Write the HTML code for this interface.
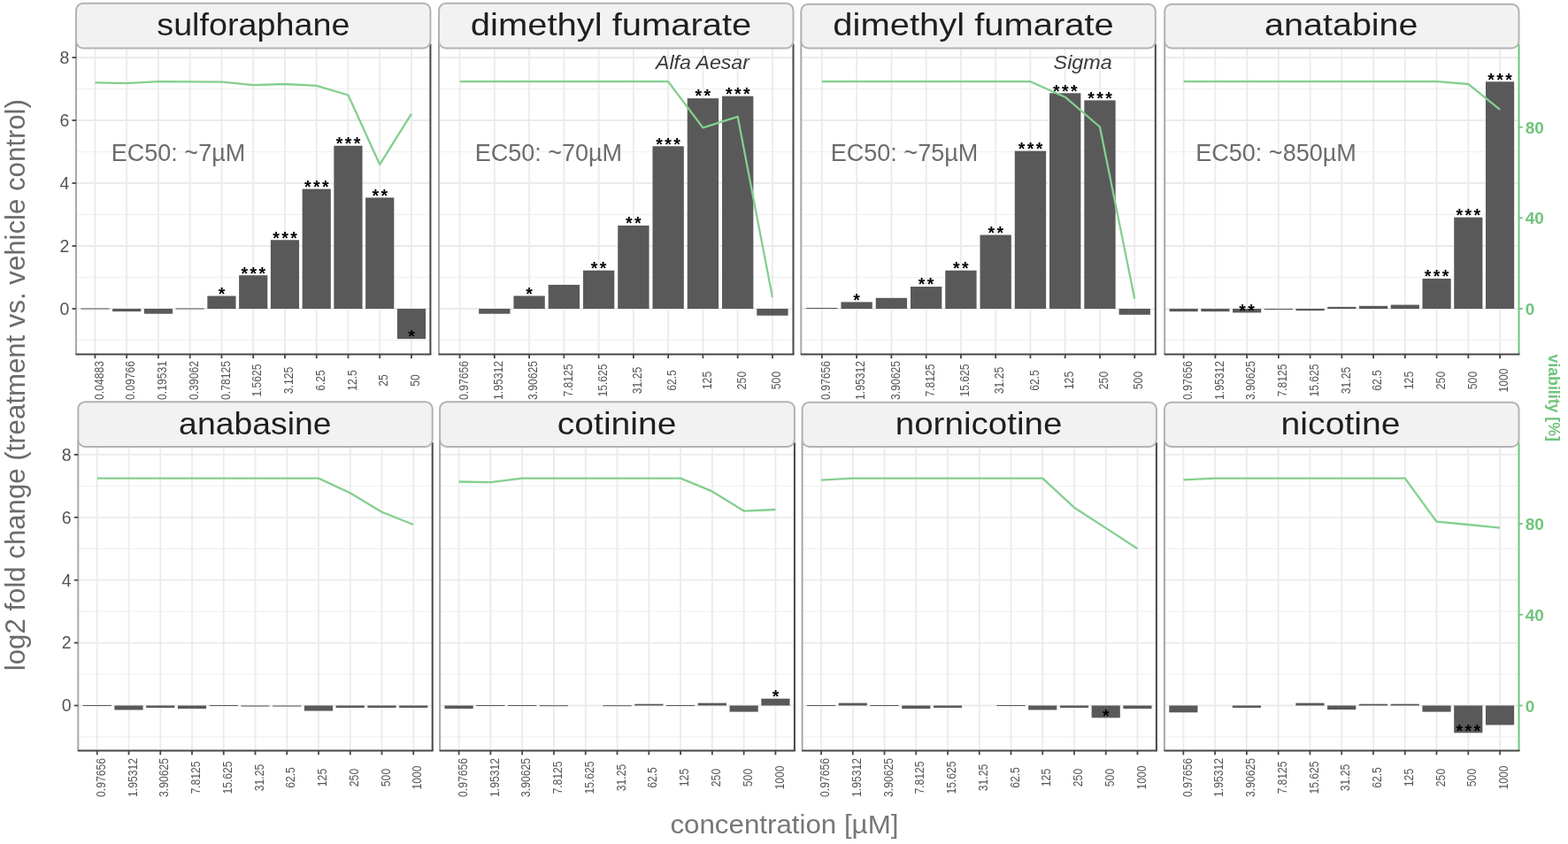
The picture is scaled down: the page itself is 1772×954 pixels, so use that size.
<!DOCTYPE html>
<html><head><meta charset="utf-8"><title>figure</title>
<style>html,body{margin:0;padding:0;background:#fff;width:1772px;height:954px;overflow:hidden}</style>
</head><body>
<svg width="1772" height="954" viewBox="0 0 1772 954" style="display:block"><rect x="0" y="0" width="1772" height="954" fill="#ffffff"/><line x1="86" y1="384.5" x2="486.4" y2="384.5" stroke="#f2f2f2" stroke-width="1.3"/><line x1="86" y1="313.5" x2="486.4" y2="313.5" stroke="#f2f2f2" stroke-width="1.3"/><line x1="86" y1="242.5" x2="486.4" y2="242.5" stroke="#f2f2f2" stroke-width="1.3"/><line x1="86" y1="171.5" x2="486.4" y2="171.5" stroke="#f2f2f2" stroke-width="1.3"/><line x1="86" y1="100.5" x2="486.4" y2="100.5" stroke="#f2f2f2" stroke-width="1.3"/><line x1="86" y1="349" x2="486.4" y2="349" stroke="#ebebeb" stroke-width="1.8"/><line x1="86" y1="278" x2="486.4" y2="278" stroke="#ebebeb" stroke-width="1.8"/><line x1="86" y1="207" x2="486.4" y2="207" stroke="#ebebeb" stroke-width="1.8"/><line x1="86" y1="136" x2="486.4" y2="136" stroke="#ebebeb" stroke-width="1.8"/><line x1="86" y1="65" x2="486.4" y2="65" stroke="#ebebeb" stroke-width="1.8"/><line x1="107.45" y1="54.5" x2="107.45" y2="400.4" stroke="#ebebeb" stroke-width="1.8"/><line x1="143.2" y1="54.5" x2="143.2" y2="400.4" stroke="#ebebeb" stroke-width="1.8"/><line x1="178.95" y1="54.5" x2="178.95" y2="400.4" stroke="#ebebeb" stroke-width="1.8"/><line x1="214.7" y1="54.5" x2="214.7" y2="400.4" stroke="#ebebeb" stroke-width="1.8"/><line x1="250.45" y1="54.5" x2="250.45" y2="400.4" stroke="#ebebeb" stroke-width="1.8"/><line x1="286.2" y1="54.5" x2="286.2" y2="400.4" stroke="#ebebeb" stroke-width="1.8"/><line x1="321.95" y1="54.5" x2="321.95" y2="400.4" stroke="#ebebeb" stroke-width="1.8"/><line x1="357.7" y1="54.5" x2="357.7" y2="400.4" stroke="#ebebeb" stroke-width="1.8"/><line x1="393.45" y1="54.5" x2="393.45" y2="400.4" stroke="#ebebeb" stroke-width="1.8"/><line x1="429.2" y1="54.5" x2="429.2" y2="400.4" stroke="#ebebeb" stroke-width="1.8"/><line x1="464.95" y1="54.5" x2="464.95" y2="400.4" stroke="#ebebeb" stroke-width="1.8"/><rect x="91.36" y="348.5" width="32.18" height="1" fill="#595959"/><rect x="127.11" y="349" width="32.18" height="3.09" fill="#595959"/><rect x="162.86" y="349" width="32.18" height="5.68" fill="#595959"/><rect x="198.61" y="348.5" width="32.18" height="1" fill="#595959"/><rect x="234.36" y="334.52" width="32.18" height="14.48" fill="#595959"/><rect x="270.11" y="311.19" width="32.18" height="37.81" fill="#595959"/><rect x="305.86" y="271.25" width="32.18" height="77.75" fill="#595959"/><rect x="341.61" y="213.6" width="32.18" height="135.4" fill="#595959"/><rect x="377.36" y="164.75" width="32.18" height="184.25" fill="#595959"/><rect x="413.11" y="223.4" width="32.18" height="125.6" fill="#595959"/><rect x="448.86" y="349" width="32.18" height="34.08" fill="#595959"/><polyline points="107.45,93.3 143.2,94.2 178.95,92.2 214.7,92.4 250.45,92.6 286.2,96.1 321.95,95 357.7,96.8 393.45,107.5 429.2,185.9 464.95,128.7" fill="none" stroke="#84cf8f" stroke-width="2.3" stroke-linejoin="round"/><g font-family="Liberation Sans, sans-serif" font-weight="bold"><text x="250.45" y="338.86" font-size="19.5" text-anchor="middle" fill="#000">*</text><text x="276.2" y="315.53" font-size="19.5" text-anchor="middle" fill="#000">*</text><text x="286.2" y="315.53" font-size="19.5" text-anchor="middle" fill="#000">*</text><text x="296.2" y="315.53" font-size="19.5" text-anchor="middle" fill="#000">*</text><text x="311.95" y="275.6" font-size="19.5" text-anchor="middle" fill="#000">*</text><text x="321.95" y="275.6" font-size="19.5" text-anchor="middle" fill="#000">*</text><text x="331.95" y="275.6" font-size="19.5" text-anchor="middle" fill="#000">*</text><text x="347.7" y="217.94" font-size="19.5" text-anchor="middle" fill="#000">*</text><text x="357.7" y="217.94" font-size="19.5" text-anchor="middle" fill="#000">*</text><text x="367.7" y="217.94" font-size="19.5" text-anchor="middle" fill="#000">*</text><text x="383.45" y="169.09" font-size="19.5" text-anchor="middle" fill="#000">*</text><text x="393.45" y="169.09" font-size="19.5" text-anchor="middle" fill="#000">*</text><text x="403.45" y="169.09" font-size="19.5" text-anchor="middle" fill="#000">*</text><text x="424.2" y="227.74" font-size="19.5" text-anchor="middle" fill="#000">*</text><text x="434.2" y="227.74" font-size="19.5" text-anchor="middle" fill="#000">*</text><text x="464.95" y="387.42" font-size="19.5" text-anchor="middle" fill="#000">*</text></g><text x="125.84" y="181.7" font-family="Liberation Sans, sans-serif" font-size="27" fill="#6c6c6c">EC50: ~7µM</text><line x1="86" y1="46.5" x2="86" y2="400.4" stroke="#a8a8a8" stroke-width="2"/><line x1="486.4" y1="49.5" x2="486.4" y2="400.4" stroke="#474747" stroke-width="2"/><line x1="85.5" y1="400.4" x2="487.4" y2="400.4" stroke="#474747" stroke-width="2"/><line x1="107.45" y1="400.4" x2="107.45" y2="405.2" stroke="#474747" stroke-width="1.8"/><line x1="143.2" y1="400.4" x2="143.2" y2="405.2" stroke="#474747" stroke-width="1.8"/><line x1="178.95" y1="400.4" x2="178.95" y2="405.2" stroke="#474747" stroke-width="1.8"/><line x1="214.7" y1="400.4" x2="214.7" y2="405.2" stroke="#474747" stroke-width="1.8"/><line x1="250.45" y1="400.4" x2="250.45" y2="405.2" stroke="#474747" stroke-width="1.8"/><line x1="286.2" y1="400.4" x2="286.2" y2="405.2" stroke="#474747" stroke-width="1.8"/><line x1="321.95" y1="400.4" x2="321.95" y2="405.2" stroke="#474747" stroke-width="1.8"/><line x1="357.7" y1="400.4" x2="357.7" y2="405.2" stroke="#474747" stroke-width="1.8"/><line x1="393.45" y1="400.4" x2="393.45" y2="405.2" stroke="#474747" stroke-width="1.8"/><line x1="429.2" y1="400.4" x2="429.2" y2="405.2" stroke="#474747" stroke-width="1.8"/><line x1="464.95" y1="400.4" x2="464.95" y2="405.2" stroke="#474747" stroke-width="1.8"/><rect x="86" y="3.7" width="400.4" height="50.8" rx="8" ry="8" fill="#f2f2f2" stroke="#b3b3b3" stroke-width="2"/><text transform="translate(177.27,40.1) scale(1.0783,1)" font-family="Liberation Sans, sans-serif" font-size="35" fill="#1f1f1f">sulforaphane</text><g font-family="Liberation Sans, sans-serif" font-size="14" fill="#545454"><text transform="translate(116.65,430) rotate(-90) scale(0.87,1)" text-anchor="middle">0.04883</text><text transform="translate(152.4,430) rotate(-90) scale(0.87,1)" text-anchor="middle">0.09766</text><text transform="translate(188.15,430) rotate(-90) scale(0.87,1)" text-anchor="middle">0.19531</text><text transform="translate(223.9,430) rotate(-90) scale(0.87,1)" text-anchor="middle">0.39062</text><text transform="translate(259.65,430) rotate(-90) scale(0.87,1)" text-anchor="middle">0.78125</text><text transform="translate(295.4,430) rotate(-90) scale(0.87,1)" text-anchor="middle">1.5625</text><text transform="translate(331.15,430) rotate(-90) scale(0.87,1)" text-anchor="middle">3.125</text><text transform="translate(366.9,430) rotate(-90) scale(0.87,1)" text-anchor="middle">6.25</text><text transform="translate(402.65,430) rotate(-90) scale(0.87,1)" text-anchor="middle">12.5</text><text transform="translate(438.4,430) rotate(-90) scale(0.87,1)" text-anchor="middle">25</text><text transform="translate(474.15,430) rotate(-90) scale(0.87,1)" text-anchor="middle">50</text></g><line x1="496" y1="384.5" x2="896.5" y2="384.5" stroke="#f2f2f2" stroke-width="1.3"/><line x1="496" y1="313.5" x2="896.5" y2="313.5" stroke="#f2f2f2" stroke-width="1.3"/><line x1="496" y1="242.5" x2="896.5" y2="242.5" stroke="#f2f2f2" stroke-width="1.3"/><line x1="496" y1="171.5" x2="896.5" y2="171.5" stroke="#f2f2f2" stroke-width="1.3"/><line x1="496" y1="100.5" x2="896.5" y2="100.5" stroke="#f2f2f2" stroke-width="1.3"/><line x1="496" y1="349" x2="896.5" y2="349" stroke="#ebebeb" stroke-width="1.8"/><line x1="496" y1="278" x2="896.5" y2="278" stroke="#ebebeb" stroke-width="1.8"/><line x1="496" y1="207" x2="896.5" y2="207" stroke="#ebebeb" stroke-width="1.8"/><line x1="496" y1="136" x2="896.5" y2="136" stroke="#ebebeb" stroke-width="1.8"/><line x1="496" y1="65" x2="896.5" y2="65" stroke="#ebebeb" stroke-width="1.8"/><line x1="519.56" y1="54.5" x2="519.56" y2="400.4" stroke="#ebebeb" stroke-width="1.8"/><line x1="558.82" y1="54.5" x2="558.82" y2="400.4" stroke="#ebebeb" stroke-width="1.8"/><line x1="598.09" y1="54.5" x2="598.09" y2="400.4" stroke="#ebebeb" stroke-width="1.8"/><line x1="637.35" y1="54.5" x2="637.35" y2="400.4" stroke="#ebebeb" stroke-width="1.8"/><line x1="676.62" y1="54.5" x2="676.62" y2="400.4" stroke="#ebebeb" stroke-width="1.8"/><line x1="715.88" y1="54.5" x2="715.88" y2="400.4" stroke="#ebebeb" stroke-width="1.8"/><line x1="755.15" y1="54.5" x2="755.15" y2="400.4" stroke="#ebebeb" stroke-width="1.8"/><line x1="794.41" y1="54.5" x2="794.41" y2="400.4" stroke="#ebebeb" stroke-width="1.8"/><line x1="833.68" y1="54.5" x2="833.68" y2="400.4" stroke="#ebebeb" stroke-width="1.8"/><line x1="872.94" y1="54.5" x2="872.94" y2="400.4" stroke="#ebebeb" stroke-width="1.8"/><rect x="541.15" y="349" width="35.34" height="5.68" fill="#595959"/><rect x="580.42" y="334.44" width="35.34" height="14.56" fill="#595959"/><rect x="619.68" y="321.91" width="35.34" height="27.09" fill="#595959"/><rect x="658.95" y="305.69" width="35.34" height="43.31" fill="#595959"/><rect x="698.21" y="254.93" width="35.34" height="94.07" fill="#595959"/><rect x="737.48" y="165.29" width="35.34" height="183.71" fill="#595959"/><rect x="776.74" y="111.15" width="35.34" height="237.85" fill="#595959"/><rect x="816.01" y="108.67" width="35.34" height="240.33" fill="#595959"/><rect x="855.27" y="349" width="35.34" height="7.7" fill="#595959"/><polyline points="519.56,92.2 558.82,92.2 598.09,92.2 637.35,92.2 676.62,92.2 715.88,92.2 755.15,92.2 794.41,144.4 833.68,131.9 872.94,336" fill="none" stroke="#84cf8f" stroke-width="2.3" stroke-linejoin="round"/><g font-family="Liberation Sans, sans-serif" font-weight="bold"><text x="598.09" y="338.79" font-size="19.5" text-anchor="middle" fill="#000">*</text><text x="671.62" y="310.03" font-size="19.5" text-anchor="middle" fill="#000">*</text><text x="681.62" y="310.03" font-size="19.5" text-anchor="middle" fill="#000">*</text><text x="710.88" y="259.26" font-size="19.5" text-anchor="middle" fill="#000">*</text><text x="720.88" y="259.26" font-size="19.5" text-anchor="middle" fill="#000">*</text><text x="745.15" y="169.63" font-size="19.5" text-anchor="middle" fill="#000">*</text><text x="755.15" y="169.63" font-size="19.5" text-anchor="middle" fill="#000">*</text><text x="765.15" y="169.63" font-size="19.5" text-anchor="middle" fill="#000">*</text><text x="789.41" y="115.49" font-size="19.5" text-anchor="middle" fill="#000">*</text><text x="799.41" y="115.49" font-size="19.5" text-anchor="middle" fill="#000">*</text><text x="823.68" y="113.01" font-size="19.5" text-anchor="middle" fill="#000">*</text><text x="833.68" y="113.01" font-size="19.5" text-anchor="middle" fill="#000">*</text><text x="843.68" y="113.01" font-size="19.5" text-anchor="middle" fill="#000">*</text></g><text x="536.64" y="181.7" font-family="Liberation Sans, sans-serif" font-size="27" fill="#6c6c6c">EC50: ~70µM</text><text transform="translate(740.96,77.6) scale(1.0300,1)" font-family="Liberation Sans, sans-serif" font-style="italic" font-size="22.5" fill="#3a3a3a">Alfa Aesar</text><line x1="496" y1="46.5" x2="496" y2="400.4" stroke="#a8a8a8" stroke-width="2"/><line x1="896.5" y1="49.5" x2="896.5" y2="400.4" stroke="#474747" stroke-width="2"/><line x1="495.5" y1="400.4" x2="897.5" y2="400.4" stroke="#474747" stroke-width="2"/><line x1="519.56" y1="400.4" x2="519.56" y2="405.2" stroke="#474747" stroke-width="1.8"/><line x1="558.82" y1="400.4" x2="558.82" y2="405.2" stroke="#474747" stroke-width="1.8"/><line x1="598.09" y1="400.4" x2="598.09" y2="405.2" stroke="#474747" stroke-width="1.8"/><line x1="637.35" y1="400.4" x2="637.35" y2="405.2" stroke="#474747" stroke-width="1.8"/><line x1="676.62" y1="400.4" x2="676.62" y2="405.2" stroke="#474747" stroke-width="1.8"/><line x1="715.88" y1="400.4" x2="715.88" y2="405.2" stroke="#474747" stroke-width="1.8"/><line x1="755.15" y1="400.4" x2="755.15" y2="405.2" stroke="#474747" stroke-width="1.8"/><line x1="794.41" y1="400.4" x2="794.41" y2="405.2" stroke="#474747" stroke-width="1.8"/><line x1="833.68" y1="400.4" x2="833.68" y2="405.2" stroke="#474747" stroke-width="1.8"/><line x1="872.94" y1="400.4" x2="872.94" y2="405.2" stroke="#474747" stroke-width="1.8"/><rect x="496" y="3.7" width="400.5" height="50.8" rx="8" ry="8" fill="#f2f2f2" stroke="#b3b3b3" stroke-width="2"/><text transform="translate(531.8,40.1) scale(1.1421,1)" font-family="Liberation Sans, sans-serif" font-size="35" fill="#1f1f1f">dimethyl fumarate</text><g font-family="Liberation Sans, sans-serif" font-size="14" fill="#545454"><text transform="translate(528.76,430) rotate(-90) scale(0.87,1)" text-anchor="middle">0.97656</text><text transform="translate(568.02,430) rotate(-90) scale(0.87,1)" text-anchor="middle">1.95312</text><text transform="translate(607.29,430) rotate(-90) scale(0.87,1)" text-anchor="middle">3.90625</text><text transform="translate(646.55,430) rotate(-90) scale(0.87,1)" text-anchor="middle">7.8125</text><text transform="translate(685.82,430) rotate(-90) scale(0.87,1)" text-anchor="middle">15.625</text><text transform="translate(725.08,430) rotate(-90) scale(0.87,1)" text-anchor="middle">31.25</text><text transform="translate(764.35,430) rotate(-90) scale(0.87,1)" text-anchor="middle">62.5</text><text transform="translate(803.61,430) rotate(-90) scale(0.87,1)" text-anchor="middle">125</text><text transform="translate(842.88,430) rotate(-90) scale(0.87,1)" text-anchor="middle">250</text><text transform="translate(882.14,430) rotate(-90) scale(0.87,1)" text-anchor="middle">500</text></g><line x1="905.3" y1="384.5" x2="1305.8" y2="384.5" stroke="#f2f2f2" stroke-width="1.3"/><line x1="905.3" y1="313.5" x2="1305.8" y2="313.5" stroke="#f2f2f2" stroke-width="1.3"/><line x1="905.3" y1="242.5" x2="1305.8" y2="242.5" stroke="#f2f2f2" stroke-width="1.3"/><line x1="905.3" y1="171.5" x2="1305.8" y2="171.5" stroke="#f2f2f2" stroke-width="1.3"/><line x1="905.3" y1="100.5" x2="1305.8" y2="100.5" stroke="#f2f2f2" stroke-width="1.3"/><line x1="905.3" y1="349" x2="1305.8" y2="349" stroke="#ebebeb" stroke-width="1.8"/><line x1="905.3" y1="278" x2="1305.8" y2="278" stroke="#ebebeb" stroke-width="1.8"/><line x1="905.3" y1="207" x2="1305.8" y2="207" stroke="#ebebeb" stroke-width="1.8"/><line x1="905.3" y1="136" x2="1305.8" y2="136" stroke="#ebebeb" stroke-width="1.8"/><line x1="905.3" y1="65" x2="1305.8" y2="65" stroke="#ebebeb" stroke-width="1.8"/><line x1="928.86" y1="54.5" x2="928.86" y2="400.4" stroke="#ebebeb" stroke-width="1.8"/><line x1="968.12" y1="54.5" x2="968.12" y2="400.4" stroke="#ebebeb" stroke-width="1.8"/><line x1="1007.39" y1="54.5" x2="1007.39" y2="400.4" stroke="#ebebeb" stroke-width="1.8"/><line x1="1046.65" y1="54.5" x2="1046.65" y2="400.4" stroke="#ebebeb" stroke-width="1.8"/><line x1="1085.92" y1="54.5" x2="1085.92" y2="400.4" stroke="#ebebeb" stroke-width="1.8"/><line x1="1125.18" y1="54.5" x2="1125.18" y2="400.4" stroke="#ebebeb" stroke-width="1.8"/><line x1="1164.45" y1="54.5" x2="1164.45" y2="400.4" stroke="#ebebeb" stroke-width="1.8"/><line x1="1203.71" y1="54.5" x2="1203.71" y2="400.4" stroke="#ebebeb" stroke-width="1.8"/><line x1="1242.98" y1="54.5" x2="1242.98" y2="400.4" stroke="#ebebeb" stroke-width="1.8"/><line x1="1282.24" y1="54.5" x2="1282.24" y2="400.4" stroke="#ebebeb" stroke-width="1.8"/><rect x="911.19" y="347.94" width="35.34" height="1.06" fill="#595959"/><rect x="950.45" y="341.4" width="35.34" height="7.6" fill="#595959"/><rect x="989.72" y="336.79" width="35.34" height="12.21" fill="#595959"/><rect x="1028.98" y="324.01" width="35.34" height="24.99" fill="#595959"/><rect x="1068.25" y="305.69" width="35.34" height="43.31" fill="#595959"/><rect x="1107.51" y="265.57" width="35.34" height="83.43" fill="#595959"/><rect x="1146.78" y="170.61" width="35.34" height="178.39" fill="#595959"/><rect x="1186.04" y="105.29" width="35.34" height="243.71" fill="#595959"/><rect x="1225.31" y="113.39" width="35.34" height="235.61" fill="#595959"/><rect x="1264.57" y="349" width="35.34" height="6.75" fill="#595959"/><polyline points="928.86,92.2 968.12,92.2 1007.39,92.2 1046.65,92.2 1085.92,92.2 1125.18,92.2 1164.45,92.2 1203.71,109.7 1242.98,143.5 1282.24,337.8" fill="none" stroke="#84cf8f" stroke-width="2.3" stroke-linejoin="round"/><g font-family="Liberation Sans, sans-serif" font-weight="bold"><text x="968.12" y="345.74" font-size="19.5" text-anchor="middle" fill="#000">*</text><text x="1041.65" y="328.35" font-size="19.5" text-anchor="middle" fill="#000">*</text><text x="1051.65" y="328.35" font-size="19.5" text-anchor="middle" fill="#000">*</text><text x="1080.92" y="310.03" font-size="19.5" text-anchor="middle" fill="#000">*</text><text x="1090.92" y="310.03" font-size="19.5" text-anchor="middle" fill="#000">*</text><text x="1120.18" y="269.92" font-size="19.5" text-anchor="middle" fill="#000">*</text><text x="1130.18" y="269.92" font-size="19.5" text-anchor="middle" fill="#000">*</text><text x="1154.45" y="174.95" font-size="19.5" text-anchor="middle" fill="#000">*</text><text x="1164.45" y="174.95" font-size="19.5" text-anchor="middle" fill="#000">*</text><text x="1174.45" y="174.95" font-size="19.5" text-anchor="middle" fill="#000">*</text><text x="1193.71" y="109.63" font-size="19.5" text-anchor="middle" fill="#000">*</text><text x="1203.71" y="109.63" font-size="19.5" text-anchor="middle" fill="#000">*</text><text x="1213.71" y="109.63" font-size="19.5" text-anchor="middle" fill="#000">*</text><text x="1232.98" y="117.73" font-size="19.5" text-anchor="middle" fill="#000">*</text><text x="1242.98" y="117.73" font-size="19.5" text-anchor="middle" fill="#000">*</text><text x="1252.98" y="117.73" font-size="19.5" text-anchor="middle" fill="#000">*</text></g><text x="938.84" y="181.7" font-family="Liberation Sans, sans-serif" font-size="27" fill="#6c6c6c">EC50: ~75µM</text><text transform="translate(1190.6,77.6) scale(1.0365,1)" font-family="Liberation Sans, sans-serif" font-style="italic" font-size="22.5" fill="#3a3a3a">Sigma</text><line x1="905.3" y1="46.5" x2="905.3" y2="400.4" stroke="#a8a8a8" stroke-width="2"/><line x1="1305.8" y1="49.5" x2="1305.8" y2="400.4" stroke="#474747" stroke-width="2"/><line x1="904.8" y1="400.4" x2="1306.8" y2="400.4" stroke="#474747" stroke-width="2"/><line x1="928.86" y1="400.4" x2="928.86" y2="405.2" stroke="#474747" stroke-width="1.8"/><line x1="968.12" y1="400.4" x2="968.12" y2="405.2" stroke="#474747" stroke-width="1.8"/><line x1="1007.39" y1="400.4" x2="1007.39" y2="405.2" stroke="#474747" stroke-width="1.8"/><line x1="1046.65" y1="400.4" x2="1046.65" y2="405.2" stroke="#474747" stroke-width="1.8"/><line x1="1085.92" y1="400.4" x2="1085.92" y2="405.2" stroke="#474747" stroke-width="1.8"/><line x1="1125.18" y1="400.4" x2="1125.18" y2="405.2" stroke="#474747" stroke-width="1.8"/><line x1="1164.45" y1="400.4" x2="1164.45" y2="405.2" stroke="#474747" stroke-width="1.8"/><line x1="1203.71" y1="400.4" x2="1203.71" y2="405.2" stroke="#474747" stroke-width="1.8"/><line x1="1242.98" y1="400.4" x2="1242.98" y2="405.2" stroke="#474747" stroke-width="1.8"/><line x1="1282.24" y1="400.4" x2="1282.24" y2="405.2" stroke="#474747" stroke-width="1.8"/><rect x="905.3" y="4.7" width="400.5" height="49.8" rx="8" ry="8" fill="#f2f2f2" stroke="#b3b3b3" stroke-width="2"/><text transform="translate(941.3,40.1) scale(1.1421,1)" font-family="Liberation Sans, sans-serif" font-size="35" fill="#1f1f1f">dimethyl fumarate</text><g font-family="Liberation Sans, sans-serif" font-size="14" fill="#545454"><text transform="translate(938.06,430) rotate(-90) scale(0.87,1)" text-anchor="middle">0.97656</text><text transform="translate(977.32,430) rotate(-90) scale(0.87,1)" text-anchor="middle">1.95312</text><text transform="translate(1016.59,430) rotate(-90) scale(0.87,1)" text-anchor="middle">3.90625</text><text transform="translate(1055.85,430) rotate(-90) scale(0.87,1)" text-anchor="middle">7.8125</text><text transform="translate(1095.12,430) rotate(-90) scale(0.87,1)" text-anchor="middle">15.625</text><text transform="translate(1134.38,430) rotate(-90) scale(0.87,1)" text-anchor="middle">31.25</text><text transform="translate(1173.65,430) rotate(-90) scale(0.87,1)" text-anchor="middle">62.5</text><text transform="translate(1212.91,430) rotate(-90) scale(0.87,1)" text-anchor="middle">125</text><text transform="translate(1252.18,430) rotate(-90) scale(0.87,1)" text-anchor="middle">250</text><text transform="translate(1291.44,430) rotate(-90) scale(0.87,1)" text-anchor="middle">500</text></g><line x1="1316.2" y1="384.5" x2="1716.5" y2="384.5" stroke="#f2f2f2" stroke-width="1.3"/><line x1="1316.2" y1="313.5" x2="1716.5" y2="313.5" stroke="#f2f2f2" stroke-width="1.3"/><line x1="1316.2" y1="242.5" x2="1716.5" y2="242.5" stroke="#f2f2f2" stroke-width="1.3"/><line x1="1316.2" y1="171.5" x2="1716.5" y2="171.5" stroke="#f2f2f2" stroke-width="1.3"/><line x1="1316.2" y1="100.5" x2="1716.5" y2="100.5" stroke="#f2f2f2" stroke-width="1.3"/><line x1="1316.2" y1="349" x2="1716.5" y2="349" stroke="#ebebeb" stroke-width="1.8"/><line x1="1316.2" y1="278" x2="1716.5" y2="278" stroke="#ebebeb" stroke-width="1.8"/><line x1="1316.2" y1="207" x2="1716.5" y2="207" stroke="#ebebeb" stroke-width="1.8"/><line x1="1316.2" y1="136" x2="1716.5" y2="136" stroke="#ebebeb" stroke-width="1.8"/><line x1="1316.2" y1="65" x2="1716.5" y2="65" stroke="#ebebeb" stroke-width="1.8"/><line x1="1337.64" y1="54.5" x2="1337.64" y2="400.4" stroke="#ebebeb" stroke-width="1.8"/><line x1="1373.39" y1="54.5" x2="1373.39" y2="400.4" stroke="#ebebeb" stroke-width="1.8"/><line x1="1409.13" y1="54.5" x2="1409.13" y2="400.4" stroke="#ebebeb" stroke-width="1.8"/><line x1="1444.87" y1="54.5" x2="1444.87" y2="400.4" stroke="#ebebeb" stroke-width="1.8"/><line x1="1480.61" y1="54.5" x2="1480.61" y2="400.4" stroke="#ebebeb" stroke-width="1.8"/><line x1="1516.35" y1="54.5" x2="1516.35" y2="400.4" stroke="#ebebeb" stroke-width="1.8"/><line x1="1552.09" y1="54.5" x2="1552.09" y2="400.4" stroke="#ebebeb" stroke-width="1.8"/><line x1="1587.83" y1="54.5" x2="1587.83" y2="400.4" stroke="#ebebeb" stroke-width="1.8"/><line x1="1623.57" y1="54.5" x2="1623.57" y2="400.4" stroke="#ebebeb" stroke-width="1.8"/><line x1="1659.31" y1="54.5" x2="1659.31" y2="400.4" stroke="#ebebeb" stroke-width="1.8"/><line x1="1695.06" y1="54.5" x2="1695.06" y2="400.4" stroke="#ebebeb" stroke-width="1.8"/><rect x="1321.56" y="349" width="32.17" height="3.12" fill="#595959"/><rect x="1357.3" y="349" width="32.17" height="3.12" fill="#595959"/><rect x="1393.04" y="349" width="32.17" height="4.4" fill="#595959"/><rect x="1428.78" y="349" width="32.17" height="1.06" fill="#595959"/><rect x="1464.53" y="349" width="32.17" height="2.13" fill="#595959"/><rect x="1500.27" y="346.87" width="32.17" height="2.13" fill="#595959"/><rect x="1536.01" y="345.81" width="32.17" height="3.19" fill="#595959"/><rect x="1571.75" y="344.56" width="32.17" height="4.44" fill="#595959"/><rect x="1607.49" y="314.92" width="32.17" height="34.08" fill="#595959"/><rect x="1643.23" y="245.69" width="32.17" height="103.31" fill="#595959"/><rect x="1678.97" y="92.33" width="32.17" height="256.67" fill="#595959"/><polyline points="1337.64,92.2 1373.39,92.2 1409.13,92.2 1444.87,92.2 1480.61,92.2 1516.35,92.2 1552.09,92.2 1587.83,92.2 1623.57,92.2 1659.31,95 1695.06,123.8" fill="none" stroke="#84cf8f" stroke-width="2.3" stroke-linejoin="round"/><g font-family="Liberation Sans, sans-serif" font-weight="bold"><text x="1404.13" y="357.74" font-size="19.5" text-anchor="middle" fill="#000">*</text><text x="1414.13" y="357.74" font-size="19.5" text-anchor="middle" fill="#000">*</text><text x="1613.57" y="319.26" font-size="19.5" text-anchor="middle" fill="#000">*</text><text x="1623.57" y="319.26" font-size="19.5" text-anchor="middle" fill="#000">*</text><text x="1633.57" y="319.26" font-size="19.5" text-anchor="middle" fill="#000">*</text><text x="1649.31" y="250.03" font-size="19.5" text-anchor="middle" fill="#000">*</text><text x="1659.31" y="250.03" font-size="19.5" text-anchor="middle" fill="#000">*</text><text x="1669.31" y="250.03" font-size="19.5" text-anchor="middle" fill="#000">*</text><text x="1685.06" y="96.67" font-size="19.5" text-anchor="middle" fill="#000">*</text><text x="1695.06" y="96.67" font-size="19.5" text-anchor="middle" fill="#000">*</text><text x="1705.06" y="96.67" font-size="19.5" text-anchor="middle" fill="#000">*</text></g><text x="1351.34" y="181.7" font-family="Liberation Sans, sans-serif" font-size="27" fill="#6c6c6c">EC50: ~850µM</text><line x1="1316.2" y1="46.5" x2="1316.2" y2="400.4" stroke="#a8a8a8" stroke-width="2"/><line x1="1716.5" y1="49.5" x2="1716.5" y2="400.4" stroke="#70c47c" stroke-width="2"/><line x1="1315.7" y1="400.4" x2="1717.5" y2="400.4" stroke="#474747" stroke-width="2"/><line x1="1337.64" y1="400.4" x2="1337.64" y2="405.2" stroke="#474747" stroke-width="1.8"/><line x1="1373.39" y1="400.4" x2="1373.39" y2="405.2" stroke="#474747" stroke-width="1.8"/><line x1="1409.13" y1="400.4" x2="1409.13" y2="405.2" stroke="#474747" stroke-width="1.8"/><line x1="1444.87" y1="400.4" x2="1444.87" y2="405.2" stroke="#474747" stroke-width="1.8"/><line x1="1480.61" y1="400.4" x2="1480.61" y2="405.2" stroke="#474747" stroke-width="1.8"/><line x1="1516.35" y1="400.4" x2="1516.35" y2="405.2" stroke="#474747" stroke-width="1.8"/><line x1="1552.09" y1="400.4" x2="1552.09" y2="405.2" stroke="#474747" stroke-width="1.8"/><line x1="1587.83" y1="400.4" x2="1587.83" y2="405.2" stroke="#474747" stroke-width="1.8"/><line x1="1623.57" y1="400.4" x2="1623.57" y2="405.2" stroke="#474747" stroke-width="1.8"/><line x1="1659.31" y1="400.4" x2="1659.31" y2="405.2" stroke="#474747" stroke-width="1.8"/><line x1="1695.06" y1="400.4" x2="1695.06" y2="405.2" stroke="#474747" stroke-width="1.8"/><rect x="1316.2" y="4.7" width="400.3" height="49.8" rx="8" ry="8" fill="#f2f2f2" stroke="#b3b3b3" stroke-width="2"/><text transform="translate(1429.12,40.1) scale(1.1283,1)" font-family="Liberation Sans, sans-serif" font-size="35" fill="#1f1f1f">anatabine</text><g font-family="Liberation Sans, sans-serif" font-size="14" fill="#545454"><text transform="translate(1346.84,430) rotate(-90) scale(0.87,1)" text-anchor="middle">0.97656</text><text transform="translate(1382.59,430) rotate(-90) scale(0.87,1)" text-anchor="middle">1.95312</text><text transform="translate(1418.33,430) rotate(-90) scale(0.87,1)" text-anchor="middle">3.90625</text><text transform="translate(1454.07,430) rotate(-90) scale(0.87,1)" text-anchor="middle">7.8125</text><text transform="translate(1489.81,430) rotate(-90) scale(0.87,1)" text-anchor="middle">15.625</text><text transform="translate(1525.55,430) rotate(-90) scale(0.87,1)" text-anchor="middle">31.25</text><text transform="translate(1561.29,430) rotate(-90) scale(0.87,1)" text-anchor="middle">62.5</text><text transform="translate(1597.03,430) rotate(-90) scale(0.87,1)" text-anchor="middle">125</text><text transform="translate(1632.77,430) rotate(-90) scale(0.87,1)" text-anchor="middle">250</text><text transform="translate(1668.51,430) rotate(-90) scale(0.87,1)" text-anchor="middle">500</text><text transform="translate(1704.26,430) rotate(-90) scale(0.87,1)" text-anchor="middle">1000</text></g><line x1="88.3" y1="832.95" x2="488.7" y2="832.95" stroke="#f2f2f2" stroke-width="1.3"/><line x1="88.3" y1="762.05" x2="488.7" y2="762.05" stroke="#f2f2f2" stroke-width="1.3"/><line x1="88.3" y1="691.15" x2="488.7" y2="691.15" stroke="#f2f2f2" stroke-width="1.3"/><line x1="88.3" y1="620.25" x2="488.7" y2="620.25" stroke="#f2f2f2" stroke-width="1.3"/><line x1="88.3" y1="549.35" x2="488.7" y2="549.35" stroke="#f2f2f2" stroke-width="1.3"/><line x1="88.3" y1="797.5" x2="488.7" y2="797.5" stroke="#ebebeb" stroke-width="1.8"/><line x1="88.3" y1="726.6" x2="488.7" y2="726.6" stroke="#ebebeb" stroke-width="1.8"/><line x1="88.3" y1="655.7" x2="488.7" y2="655.7" stroke="#ebebeb" stroke-width="1.8"/><line x1="88.3" y1="584.8" x2="488.7" y2="584.8" stroke="#ebebeb" stroke-width="1.8"/><line x1="88.3" y1="513.9" x2="488.7" y2="513.9" stroke="#ebebeb" stroke-width="1.8"/><line x1="109.75" y1="505" x2="109.75" y2="848.5" stroke="#ebebeb" stroke-width="1.8"/><line x1="145.5" y1="505" x2="145.5" y2="848.5" stroke="#ebebeb" stroke-width="1.8"/><line x1="181.25" y1="505" x2="181.25" y2="848.5" stroke="#ebebeb" stroke-width="1.8"/><line x1="217" y1="505" x2="217" y2="848.5" stroke="#ebebeb" stroke-width="1.8"/><line x1="252.75" y1="505" x2="252.75" y2="848.5" stroke="#ebebeb" stroke-width="1.8"/><line x1="288.5" y1="505" x2="288.5" y2="848.5" stroke="#ebebeb" stroke-width="1.8"/><line x1="324.25" y1="505" x2="324.25" y2="848.5" stroke="#ebebeb" stroke-width="1.8"/><line x1="360" y1="505" x2="360" y2="848.5" stroke="#ebebeb" stroke-width="1.8"/><line x1="395.75" y1="505" x2="395.75" y2="848.5" stroke="#ebebeb" stroke-width="1.8"/><line x1="431.5" y1="505" x2="431.5" y2="848.5" stroke="#ebebeb" stroke-width="1.8"/><line x1="467.25" y1="505" x2="467.25" y2="848.5" stroke="#ebebeb" stroke-width="1.8"/><rect x="93.66" y="797" width="32.18" height="1" fill="#595959"/><rect x="129.41" y="797.5" width="32.18" height="4.96" fill="#595959"/><rect x="165.16" y="797.5" width="32.18" height="2.48" fill="#595959"/><rect x="200.91" y="797.5" width="32.18" height="3.54" fill="#595959"/><rect x="236.66" y="797" width="32.18" height="1" fill="#595959"/><rect x="272.41" y="797.5" width="32.18" height="1.06" fill="#595959"/><rect x="308.16" y="797.5" width="32.18" height="1.06" fill="#595959"/><rect x="343.91" y="797.5" width="32.18" height="6.03" fill="#595959"/><rect x="379.66" y="797.5" width="32.18" height="2.48" fill="#595959"/><rect x="415.41" y="797.5" width="32.18" height="2.48" fill="#595959"/><rect x="451.16" y="797.5" width="32.18" height="2.48" fill="#595959"/><polyline points="109.75,540.6 145.5,540.6 181.25,540.6 217,540.6 252.75,540.6 288.5,540.6 324.25,540.6 360,540.6 395.75,557.2 431.5,578.7 467.25,593" fill="none" stroke="#84cf8f" stroke-width="2.3" stroke-linejoin="round"/><g font-family="Liberation Sans, sans-serif" font-weight="bold"></g><line x1="88.3" y1="497" x2="88.3" y2="848.5" stroke="#a8a8a8" stroke-width="2"/><line x1="488.7" y1="500" x2="488.7" y2="848.5" stroke="#474747" stroke-width="2"/><line x1="87.8" y1="848.5" x2="489.7" y2="848.5" stroke="#474747" stroke-width="2"/><line x1="109.75" y1="848.5" x2="109.75" y2="853.3" stroke="#474747" stroke-width="1.8"/><line x1="145.5" y1="848.5" x2="145.5" y2="853.3" stroke="#474747" stroke-width="1.8"/><line x1="181.25" y1="848.5" x2="181.25" y2="853.3" stroke="#474747" stroke-width="1.8"/><line x1="217" y1="848.5" x2="217" y2="853.3" stroke="#474747" stroke-width="1.8"/><line x1="252.75" y1="848.5" x2="252.75" y2="853.3" stroke="#474747" stroke-width="1.8"/><line x1="288.5" y1="848.5" x2="288.5" y2="853.3" stroke="#474747" stroke-width="1.8"/><line x1="324.25" y1="848.5" x2="324.25" y2="853.3" stroke="#474747" stroke-width="1.8"/><line x1="360" y1="848.5" x2="360" y2="853.3" stroke="#474747" stroke-width="1.8"/><line x1="395.75" y1="848.5" x2="395.75" y2="853.3" stroke="#474747" stroke-width="1.8"/><line x1="431.5" y1="848.5" x2="431.5" y2="853.3" stroke="#474747" stroke-width="1.8"/><line x1="467.25" y1="848.5" x2="467.25" y2="853.3" stroke="#474747" stroke-width="1.8"/><rect x="88.3" y="454.2" width="400.4" height="50.8" rx="8" ry="8" fill="#f2f2f2" stroke="#b3b3b3" stroke-width="2"/><text transform="translate(202.11,490.6) scale(1.0678,1)" font-family="Liberation Sans, sans-serif" font-size="35" fill="#1f1f1f">anabasine</text><g font-family="Liberation Sans, sans-serif" font-size="14" fill="#545454"><text transform="translate(118.95,879) rotate(-90) scale(0.87,1)" text-anchor="middle">0.97656</text><text transform="translate(154.7,879) rotate(-90) scale(0.87,1)" text-anchor="middle">1.95312</text><text transform="translate(190.45,879) rotate(-90) scale(0.87,1)" text-anchor="middle">3.90625</text><text transform="translate(226.2,879) rotate(-90) scale(0.87,1)" text-anchor="middle">7.8125</text><text transform="translate(261.95,879) rotate(-90) scale(0.87,1)" text-anchor="middle">15.625</text><text transform="translate(297.7,879) rotate(-90) scale(0.87,1)" text-anchor="middle">31.25</text><text transform="translate(333.45,879) rotate(-90) scale(0.87,1)" text-anchor="middle">62.5</text><text transform="translate(369.2,879) rotate(-90) scale(0.87,1)" text-anchor="middle">125</text><text transform="translate(404.95,879) rotate(-90) scale(0.87,1)" text-anchor="middle">250</text><text transform="translate(440.7,879) rotate(-90) scale(0.87,1)" text-anchor="middle">500</text><text transform="translate(476.45,879) rotate(-90) scale(0.87,1)" text-anchor="middle">1000</text></g><line x1="497.1" y1="832.95" x2="897.9" y2="832.95" stroke="#f2f2f2" stroke-width="1.3"/><line x1="497.1" y1="762.05" x2="897.9" y2="762.05" stroke="#f2f2f2" stroke-width="1.3"/><line x1="497.1" y1="691.15" x2="897.9" y2="691.15" stroke="#f2f2f2" stroke-width="1.3"/><line x1="497.1" y1="620.25" x2="897.9" y2="620.25" stroke="#f2f2f2" stroke-width="1.3"/><line x1="497.1" y1="549.35" x2="897.9" y2="549.35" stroke="#f2f2f2" stroke-width="1.3"/><line x1="497.1" y1="797.5" x2="897.9" y2="797.5" stroke="#ebebeb" stroke-width="1.8"/><line x1="497.1" y1="726.6" x2="897.9" y2="726.6" stroke="#ebebeb" stroke-width="1.8"/><line x1="497.1" y1="655.7" x2="897.9" y2="655.7" stroke="#ebebeb" stroke-width="1.8"/><line x1="497.1" y1="584.8" x2="897.9" y2="584.8" stroke="#ebebeb" stroke-width="1.8"/><line x1="497.1" y1="513.9" x2="897.9" y2="513.9" stroke="#ebebeb" stroke-width="1.8"/><line x1="518.57" y1="505" x2="518.57" y2="848.5" stroke="#ebebeb" stroke-width="1.8"/><line x1="554.36" y1="505" x2="554.36" y2="848.5" stroke="#ebebeb" stroke-width="1.8"/><line x1="590.14" y1="505" x2="590.14" y2="848.5" stroke="#ebebeb" stroke-width="1.8"/><line x1="625.93" y1="505" x2="625.93" y2="848.5" stroke="#ebebeb" stroke-width="1.8"/><line x1="661.71" y1="505" x2="661.71" y2="848.5" stroke="#ebebeb" stroke-width="1.8"/><line x1="697.5" y1="505" x2="697.5" y2="848.5" stroke="#ebebeb" stroke-width="1.8"/><line x1="733.29" y1="505" x2="733.29" y2="848.5" stroke="#ebebeb" stroke-width="1.8"/><line x1="769.07" y1="505" x2="769.07" y2="848.5" stroke="#ebebeb" stroke-width="1.8"/><line x1="804.86" y1="505" x2="804.86" y2="848.5" stroke="#ebebeb" stroke-width="1.8"/><line x1="840.64" y1="505" x2="840.64" y2="848.5" stroke="#ebebeb" stroke-width="1.8"/><line x1="876.43" y1="505" x2="876.43" y2="848.5" stroke="#ebebeb" stroke-width="1.8"/><rect x="502.47" y="797.5" width="32.21" height="3.54" fill="#595959"/><rect x="538.25" y="797" width="32.21" height="1" fill="#595959"/><rect x="574.04" y="797" width="32.21" height="1" fill="#595959"/><rect x="609.83" y="797.2" width="32.21" height="1" fill="#595959"/><rect x="681.4" y="797.2" width="32.21" height="1" fill="#595959"/><rect x="717.18" y="795.73" width="32.21" height="1.77" fill="#595959"/><rect x="752.97" y="797" width="32.21" height="1" fill="#595959"/><rect x="788.75" y="794.66" width="32.21" height="2.84" fill="#595959"/><rect x="824.54" y="797.5" width="32.21" height="7.09" fill="#595959"/><rect x="860.33" y="789.7" width="32.21" height="7.8" fill="#595959"/><polyline points="518.57,544.5 554.36,545.2 590.14,540.6 625.93,540.6 661.71,540.6 697.5,540.6 733.29,540.6 769.07,540.6 804.86,555.4 840.64,577.6 876.43,576" fill="none" stroke="#84cf8f" stroke-width="2.3" stroke-linejoin="round"/><g font-family="Liberation Sans, sans-serif" font-weight="bold"><text x="876.43" y="794.04" font-size="19.5" text-anchor="middle" fill="#000">*</text></g><line x1="497.1" y1="497" x2="497.1" y2="848.5" stroke="#a8a8a8" stroke-width="2"/><line x1="897.9" y1="500" x2="897.9" y2="848.5" stroke="#474747" stroke-width="2"/><line x1="496.6" y1="848.5" x2="898.9" y2="848.5" stroke="#474747" stroke-width="2"/><line x1="518.57" y1="848.5" x2="518.57" y2="853.3" stroke="#474747" stroke-width="1.8"/><line x1="554.36" y1="848.5" x2="554.36" y2="853.3" stroke="#474747" stroke-width="1.8"/><line x1="590.14" y1="848.5" x2="590.14" y2="853.3" stroke="#474747" stroke-width="1.8"/><line x1="625.93" y1="848.5" x2="625.93" y2="853.3" stroke="#474747" stroke-width="1.8"/><line x1="661.71" y1="848.5" x2="661.71" y2="853.3" stroke="#474747" stroke-width="1.8"/><line x1="697.5" y1="848.5" x2="697.5" y2="853.3" stroke="#474747" stroke-width="1.8"/><line x1="733.29" y1="848.5" x2="733.29" y2="853.3" stroke="#474747" stroke-width="1.8"/><line x1="769.07" y1="848.5" x2="769.07" y2="853.3" stroke="#474747" stroke-width="1.8"/><line x1="804.86" y1="848.5" x2="804.86" y2="853.3" stroke="#474747" stroke-width="1.8"/><line x1="840.64" y1="848.5" x2="840.64" y2="853.3" stroke="#474747" stroke-width="1.8"/><line x1="876.43" y1="848.5" x2="876.43" y2="853.3" stroke="#474747" stroke-width="1.8"/><rect x="497.1" y="454.2" width="400.8" height="50.8" rx="8" ry="8" fill="#f2f2f2" stroke="#b3b3b3" stroke-width="2"/><text transform="translate(629.74,490.6) scale(1.1173,1)" font-family="Liberation Sans, sans-serif" font-size="35" fill="#1f1f1f">cotinine</text><g font-family="Liberation Sans, sans-serif" font-size="14" fill="#545454"><text transform="translate(527.77,879) rotate(-90) scale(0.87,1)" text-anchor="middle">0.97656</text><text transform="translate(563.56,879) rotate(-90) scale(0.87,1)" text-anchor="middle">1.95312</text><text transform="translate(599.34,879) rotate(-90) scale(0.87,1)" text-anchor="middle">3.90625</text><text transform="translate(635.13,879) rotate(-90) scale(0.87,1)" text-anchor="middle">7.8125</text><text transform="translate(670.91,879) rotate(-90) scale(0.87,1)" text-anchor="middle">15.625</text><text transform="translate(706.7,879) rotate(-90) scale(0.87,1)" text-anchor="middle">31.25</text><text transform="translate(742.49,879) rotate(-90) scale(0.87,1)" text-anchor="middle">62.5</text><text transform="translate(778.27,879) rotate(-90) scale(0.87,1)" text-anchor="middle">125</text><text transform="translate(814.06,879) rotate(-90) scale(0.87,1)" text-anchor="middle">250</text><text transform="translate(849.84,879) rotate(-90) scale(0.87,1)" text-anchor="middle">500</text><text transform="translate(885.63,879) rotate(-90) scale(0.87,1)" text-anchor="middle">1000</text></g><line x1="906.6" y1="832.95" x2="1306.9" y2="832.95" stroke="#f2f2f2" stroke-width="1.3"/><line x1="906.6" y1="762.05" x2="1306.9" y2="762.05" stroke="#f2f2f2" stroke-width="1.3"/><line x1="906.6" y1="691.15" x2="1306.9" y2="691.15" stroke="#f2f2f2" stroke-width="1.3"/><line x1="906.6" y1="620.25" x2="1306.9" y2="620.25" stroke="#f2f2f2" stroke-width="1.3"/><line x1="906.6" y1="549.35" x2="1306.9" y2="549.35" stroke="#f2f2f2" stroke-width="1.3"/><line x1="906.6" y1="797.5" x2="1306.9" y2="797.5" stroke="#ebebeb" stroke-width="1.8"/><line x1="906.6" y1="726.6" x2="1306.9" y2="726.6" stroke="#ebebeb" stroke-width="1.8"/><line x1="906.6" y1="655.7" x2="1306.9" y2="655.7" stroke="#ebebeb" stroke-width="1.8"/><line x1="906.6" y1="584.8" x2="1306.9" y2="584.8" stroke="#ebebeb" stroke-width="1.8"/><line x1="906.6" y1="513.9" x2="1306.9" y2="513.9" stroke="#ebebeb" stroke-width="1.8"/><line x1="928.04" y1="505" x2="928.04" y2="848.5" stroke="#ebebeb" stroke-width="1.8"/><line x1="963.79" y1="505" x2="963.79" y2="848.5" stroke="#ebebeb" stroke-width="1.8"/><line x1="999.53" y1="505" x2="999.53" y2="848.5" stroke="#ebebeb" stroke-width="1.8"/><line x1="1035.27" y1="505" x2="1035.27" y2="848.5" stroke="#ebebeb" stroke-width="1.8"/><line x1="1071.01" y1="505" x2="1071.01" y2="848.5" stroke="#ebebeb" stroke-width="1.8"/><line x1="1106.75" y1="505" x2="1106.75" y2="848.5" stroke="#ebebeb" stroke-width="1.8"/><line x1="1142.49" y1="505" x2="1142.49" y2="848.5" stroke="#ebebeb" stroke-width="1.8"/><line x1="1178.23" y1="505" x2="1178.23" y2="848.5" stroke="#ebebeb" stroke-width="1.8"/><line x1="1213.97" y1="505" x2="1213.97" y2="848.5" stroke="#ebebeb" stroke-width="1.8"/><line x1="1249.71" y1="505" x2="1249.71" y2="848.5" stroke="#ebebeb" stroke-width="1.8"/><line x1="1285.46" y1="505" x2="1285.46" y2="848.5" stroke="#ebebeb" stroke-width="1.8"/><rect x="911.96" y="797" width="32.17" height="1" fill="#595959"/><rect x="947.7" y="794.66" width="32.17" height="2.84" fill="#595959"/><rect x="983.44" y="797" width="32.17" height="1" fill="#595959"/><rect x="1019.18" y="797.5" width="32.17" height="3.54" fill="#595959"/><rect x="1054.93" y="797.5" width="32.17" height="2.48" fill="#595959"/><rect x="1126.41" y="797" width="32.17" height="1" fill="#595959"/><rect x="1162.15" y="797.5" width="32.17" height="4.96" fill="#595959"/><rect x="1197.89" y="797.5" width="32.17" height="2.48" fill="#595959"/><rect x="1233.63" y="797.5" width="32.17" height="13.83" fill="#595959"/><rect x="1269.37" y="797.5" width="32.17" height="3.54" fill="#595959"/><polyline points="928.04,542.7 963.79,540.6 999.53,540.6 1035.27,540.6 1071.01,540.6 1106.75,540.6 1142.49,540.6 1178.23,540.6 1213.97,573.7 1249.71,596.9 1285.46,620.2" fill="none" stroke="#84cf8f" stroke-width="2.3" stroke-linejoin="round"/><g font-family="Liberation Sans, sans-serif" font-weight="bold"><text x="1249.71" y="815.67" font-size="19.5" text-anchor="middle" fill="#000">*</text></g><line x1="906.6" y1="497" x2="906.6" y2="848.5" stroke="#a8a8a8" stroke-width="2"/><line x1="1306.9" y1="500" x2="1306.9" y2="848.5" stroke="#474747" stroke-width="2"/><line x1="906.1" y1="848.5" x2="1307.9" y2="848.5" stroke="#474747" stroke-width="2"/><line x1="928.04" y1="848.5" x2="928.04" y2="853.3" stroke="#474747" stroke-width="1.8"/><line x1="963.79" y1="848.5" x2="963.79" y2="853.3" stroke="#474747" stroke-width="1.8"/><line x1="999.53" y1="848.5" x2="999.53" y2="853.3" stroke="#474747" stroke-width="1.8"/><line x1="1035.27" y1="848.5" x2="1035.27" y2="853.3" stroke="#474747" stroke-width="1.8"/><line x1="1071.01" y1="848.5" x2="1071.01" y2="853.3" stroke="#474747" stroke-width="1.8"/><line x1="1106.75" y1="848.5" x2="1106.75" y2="853.3" stroke="#474747" stroke-width="1.8"/><line x1="1142.49" y1="848.5" x2="1142.49" y2="853.3" stroke="#474747" stroke-width="1.8"/><line x1="1178.23" y1="848.5" x2="1178.23" y2="853.3" stroke="#474747" stroke-width="1.8"/><line x1="1213.97" y1="848.5" x2="1213.97" y2="853.3" stroke="#474747" stroke-width="1.8"/><line x1="1249.71" y1="848.5" x2="1249.71" y2="853.3" stroke="#474747" stroke-width="1.8"/><line x1="1285.46" y1="848.5" x2="1285.46" y2="853.3" stroke="#474747" stroke-width="1.8"/><rect x="906.6" y="454.7" width="400.3" height="50.3" rx="8" ry="8" fill="#f2f2f2" stroke="#b3b3b3" stroke-width="2"/><text transform="translate(1011.7,490.6) scale(1.1022,1)" font-family="Liberation Sans, sans-serif" font-size="35" fill="#1f1f1f">nornicotine</text><g font-family="Liberation Sans, sans-serif" font-size="14" fill="#545454"><text transform="translate(937.24,879) rotate(-90) scale(0.87,1)" text-anchor="middle">0.97656</text><text transform="translate(972.99,879) rotate(-90) scale(0.87,1)" text-anchor="middle">1.95312</text><text transform="translate(1008.73,879) rotate(-90) scale(0.87,1)" text-anchor="middle">3.90625</text><text transform="translate(1044.47,879) rotate(-90) scale(0.87,1)" text-anchor="middle">7.8125</text><text transform="translate(1080.21,879) rotate(-90) scale(0.87,1)" text-anchor="middle">15.625</text><text transform="translate(1115.95,879) rotate(-90) scale(0.87,1)" text-anchor="middle">31.25</text><text transform="translate(1151.69,879) rotate(-90) scale(0.87,1)" text-anchor="middle">62.5</text><text transform="translate(1187.43,879) rotate(-90) scale(0.87,1)" text-anchor="middle">125</text><text transform="translate(1223.17,879) rotate(-90) scale(0.87,1)" text-anchor="middle">250</text><text transform="translate(1258.91,879) rotate(-90) scale(0.87,1)" text-anchor="middle">500</text><text transform="translate(1294.66,879) rotate(-90) scale(0.87,1)" text-anchor="middle">1000</text></g><line x1="1315.9" y1="832.95" x2="1716.5" y2="832.95" stroke="#f2f2f2" stroke-width="1.3"/><line x1="1315.9" y1="762.05" x2="1716.5" y2="762.05" stroke="#f2f2f2" stroke-width="1.3"/><line x1="1315.9" y1="691.15" x2="1716.5" y2="691.15" stroke="#f2f2f2" stroke-width="1.3"/><line x1="1315.9" y1="620.25" x2="1716.5" y2="620.25" stroke="#f2f2f2" stroke-width="1.3"/><line x1="1315.9" y1="549.35" x2="1716.5" y2="549.35" stroke="#f2f2f2" stroke-width="1.3"/><line x1="1315.9" y1="797.5" x2="1716.5" y2="797.5" stroke="#ebebeb" stroke-width="1.8"/><line x1="1315.9" y1="726.6" x2="1716.5" y2="726.6" stroke="#ebebeb" stroke-width="1.8"/><line x1="1315.9" y1="655.7" x2="1716.5" y2="655.7" stroke="#ebebeb" stroke-width="1.8"/><line x1="1315.9" y1="584.8" x2="1716.5" y2="584.8" stroke="#ebebeb" stroke-width="1.8"/><line x1="1315.9" y1="513.9" x2="1716.5" y2="513.9" stroke="#ebebeb" stroke-width="1.8"/><line x1="1337.36" y1="505" x2="1337.36" y2="848.5" stroke="#ebebeb" stroke-width="1.8"/><line x1="1373.13" y1="505" x2="1373.13" y2="848.5" stroke="#ebebeb" stroke-width="1.8"/><line x1="1408.9" y1="505" x2="1408.9" y2="848.5" stroke="#ebebeb" stroke-width="1.8"/><line x1="1444.66" y1="505" x2="1444.66" y2="848.5" stroke="#ebebeb" stroke-width="1.8"/><line x1="1480.43" y1="505" x2="1480.43" y2="848.5" stroke="#ebebeb" stroke-width="1.8"/><line x1="1516.2" y1="505" x2="1516.2" y2="848.5" stroke="#ebebeb" stroke-width="1.8"/><line x1="1551.97" y1="505" x2="1551.97" y2="848.5" stroke="#ebebeb" stroke-width="1.8"/><line x1="1587.74" y1="505" x2="1587.74" y2="848.5" stroke="#ebebeb" stroke-width="1.8"/><line x1="1623.5" y1="505" x2="1623.5" y2="848.5" stroke="#ebebeb" stroke-width="1.8"/><line x1="1659.27" y1="505" x2="1659.27" y2="848.5" stroke="#ebebeb" stroke-width="1.8"/><line x1="1695.04" y1="505" x2="1695.04" y2="848.5" stroke="#ebebeb" stroke-width="1.8"/><rect x="1321.27" y="797.5" width="32.19" height="7.8" fill="#595959"/><rect x="1392.8" y="797.5" width="32.19" height="2.48" fill="#595959"/><rect x="1464.34" y="794.66" width="32.19" height="2.84" fill="#595959"/><rect x="1500.1" y="797.5" width="32.19" height="4.61" fill="#595959"/><rect x="1535.87" y="795.73" width="32.19" height="1.77" fill="#595959"/><rect x="1571.64" y="795.73" width="32.19" height="1.77" fill="#595959"/><rect x="1607.41" y="797.5" width="32.19" height="7.09" fill="#595959"/><rect x="1643.18" y="797.5" width="32.19" height="30.84" fill="#595959"/><rect x="1678.94" y="797.5" width="32.19" height="21.98" fill="#595959"/><polyline points="1337.36,542.4 1373.13,540.6 1408.9,540.6 1444.66,540.6 1480.43,540.6 1516.2,540.6 1551.97,540.6 1587.74,540.6 1623.5,589.6 1659.27,593 1695.04,596.6" fill="none" stroke="#84cf8f" stroke-width="2.3" stroke-linejoin="round"/><g font-family="Liberation Sans, sans-serif" font-weight="bold"><text x="1649.27" y="832.68" font-size="19.5" text-anchor="middle" fill="#000">*</text><text x="1659.27" y="832.68" font-size="19.5" text-anchor="middle" fill="#000">*</text><text x="1669.27" y="832.68" font-size="19.5" text-anchor="middle" fill="#000">*</text></g><line x1="1315.9" y1="497" x2="1315.9" y2="848.5" stroke="#a8a8a8" stroke-width="2"/><line x1="1716.5" y1="500" x2="1716.5" y2="848.5" stroke="#70c47c" stroke-width="2"/><line x1="1315.4" y1="848.5" x2="1717.5" y2="848.5" stroke="#474747" stroke-width="2"/><line x1="1337.36" y1="848.5" x2="1337.36" y2="853.3" stroke="#474747" stroke-width="1.8"/><line x1="1373.13" y1="848.5" x2="1373.13" y2="853.3" stroke="#474747" stroke-width="1.8"/><line x1="1408.9" y1="848.5" x2="1408.9" y2="853.3" stroke="#474747" stroke-width="1.8"/><line x1="1444.66" y1="848.5" x2="1444.66" y2="853.3" stroke="#474747" stroke-width="1.8"/><line x1="1480.43" y1="848.5" x2="1480.43" y2="853.3" stroke="#474747" stroke-width="1.8"/><line x1="1516.2" y1="848.5" x2="1516.2" y2="853.3" stroke="#474747" stroke-width="1.8"/><line x1="1551.97" y1="848.5" x2="1551.97" y2="853.3" stroke="#474747" stroke-width="1.8"/><line x1="1587.74" y1="848.5" x2="1587.74" y2="853.3" stroke="#474747" stroke-width="1.8"/><line x1="1623.5" y1="848.5" x2="1623.5" y2="853.3" stroke="#474747" stroke-width="1.8"/><line x1="1659.27" y1="848.5" x2="1659.27" y2="853.3" stroke="#474747" stroke-width="1.8"/><line x1="1695.04" y1="848.5" x2="1695.04" y2="853.3" stroke="#474747" stroke-width="1.8"/><rect x="1315.9" y="454.7" width="400.6" height="50.3" rx="8" ry="8" fill="#f2f2f2" stroke="#b3b3b3" stroke-width="2"/><text transform="translate(1447.56,490.6) scale(1.1197,1)" font-family="Liberation Sans, sans-serif" font-size="35" fill="#1f1f1f">nicotine</text><g font-family="Liberation Sans, sans-serif" font-size="14" fill="#545454"><text transform="translate(1346.56,879) rotate(-90) scale(0.87,1)" text-anchor="middle">0.97656</text><text transform="translate(1382.33,879) rotate(-90) scale(0.87,1)" text-anchor="middle">1.95312</text><text transform="translate(1418.1,879) rotate(-90) scale(0.87,1)" text-anchor="middle">3.90625</text><text transform="translate(1453.86,879) rotate(-90) scale(0.87,1)" text-anchor="middle">7.8125</text><text transform="translate(1489.63,879) rotate(-90) scale(0.87,1)" text-anchor="middle">15.625</text><text transform="translate(1525.4,879) rotate(-90) scale(0.87,1)" text-anchor="middle">31.25</text><text transform="translate(1561.17,879) rotate(-90) scale(0.87,1)" text-anchor="middle">62.5</text><text transform="translate(1596.94,879) rotate(-90) scale(0.87,1)" text-anchor="middle">125</text><text transform="translate(1632.7,879) rotate(-90) scale(0.87,1)" text-anchor="middle">250</text><text transform="translate(1668.47,879) rotate(-90) scale(0.87,1)" text-anchor="middle">500</text><text transform="translate(1704.24,879) rotate(-90) scale(0.87,1)" text-anchor="middle">1000</text></g><line x1="81.5" y1="349" x2="86" y2="349" stroke="#474747" stroke-width="1.8"/><text x="78.4" y="355.8" text-anchor="end" font-size="19.5" fill="#545454" font-family="Liberation Sans, sans-serif">0</text><line x1="81.5" y1="278" x2="86" y2="278" stroke="#474747" stroke-width="1.8"/><text x="78.4" y="284.8" text-anchor="end" font-size="19.5" fill="#545454" font-family="Liberation Sans, sans-serif">2</text><line x1="81.5" y1="207" x2="86" y2="207" stroke="#474747" stroke-width="1.8"/><text x="78.4" y="213.8" text-anchor="end" font-size="19.5" fill="#545454" font-family="Liberation Sans, sans-serif">4</text><line x1="81.5" y1="136" x2="86" y2="136" stroke="#474747" stroke-width="1.8"/><text x="78.4" y="142.8" text-anchor="end" font-size="19.5" fill="#545454" font-family="Liberation Sans, sans-serif">6</text><line x1="81.5" y1="65" x2="86" y2="65" stroke="#474747" stroke-width="1.8"/><text x="78.4" y="71.8" text-anchor="end" font-size="19.5" fill="#545454" font-family="Liberation Sans, sans-serif">8</text><line x1="1716.5" y1="349" x2="1720.8" y2="349" stroke="#70c47c" stroke-width="1.8"/><text x="1723.8" y="356.1" font-size="19" font-weight="bold" fill="#70c47c" font-family="Liberation Sans, sans-serif">0</text><line x1="1716.5" y1="246.36" x2="1720.8" y2="246.36" stroke="#70c47c" stroke-width="1.8"/><text x="1723.8" y="253.46" font-size="19" font-weight="bold" fill="#70c47c" font-family="Liberation Sans, sans-serif">40</text><line x1="1716.5" y1="143.72" x2="1720.8" y2="143.72" stroke="#70c47c" stroke-width="1.8"/><text x="1723.8" y="150.82" font-size="19" font-weight="bold" fill="#70c47c" font-family="Liberation Sans, sans-serif">80</text><line x1="83.8" y1="797.5" x2="88.3" y2="797.5" stroke="#474747" stroke-width="1.8"/><text x="80.5" y="804.3" text-anchor="end" font-size="19.5" fill="#545454" font-family="Liberation Sans, sans-serif">0</text><line x1="83.8" y1="726.6" x2="88.3" y2="726.6" stroke="#474747" stroke-width="1.8"/><text x="80.5" y="733.4" text-anchor="end" font-size="19.5" fill="#545454" font-family="Liberation Sans, sans-serif">2</text><line x1="83.8" y1="655.7" x2="88.3" y2="655.7" stroke="#474747" stroke-width="1.8"/><text x="80.5" y="662.5" text-anchor="end" font-size="19.5" fill="#545454" font-family="Liberation Sans, sans-serif">4</text><line x1="83.8" y1="584.8" x2="88.3" y2="584.8" stroke="#474747" stroke-width="1.8"/><text x="80.5" y="591.6" text-anchor="end" font-size="19.5" fill="#545454" font-family="Liberation Sans, sans-serif">6</text><line x1="83.8" y1="513.9" x2="88.3" y2="513.9" stroke="#474747" stroke-width="1.8"/><text x="80.5" y="520.7" text-anchor="end" font-size="19.5" fill="#545454" font-family="Liberation Sans, sans-serif">8</text><line x1="1716.5" y1="797.5" x2="1720.8" y2="797.5" stroke="#70c47c" stroke-width="1.8"/><text x="1723.8" y="804.6" font-size="19" font-weight="bold" fill="#70c47c" font-family="Liberation Sans, sans-serif">0</text><line x1="1716.5" y1="694.74" x2="1720.8" y2="694.74" stroke="#70c47c" stroke-width="1.8"/><text x="1723.8" y="701.84" font-size="19" font-weight="bold" fill="#70c47c" font-family="Liberation Sans, sans-serif">40</text><line x1="1716.5" y1="591.98" x2="1720.8" y2="591.98" stroke="#70c47c" stroke-width="1.8"/><text x="1723.8" y="599.08" font-size="19" font-weight="bold" fill="#70c47c" font-family="Liberation Sans, sans-serif">80</text><text transform="translate(27.6,758.13) rotate(-90) scale(1.0218,1)" font-family="Liberation Sans, sans-serif" font-size="30.5" fill="#6b6b6b">log2 fold change (treatment vs. vehicle control)</text><text transform="translate(757.4,942.3) scale(1.0434,1)" font-family="Liberation Sans, sans-serif" font-size="30" fill="#777777">concentration [µM]</text><text transform="translate(1749.8,400.5) rotate(90)" font-family="Liberation Sans, sans-serif" font-weight="bold" font-size="17.7" fill="#70c47c">viability [%]</text></svg>
</body></html>
